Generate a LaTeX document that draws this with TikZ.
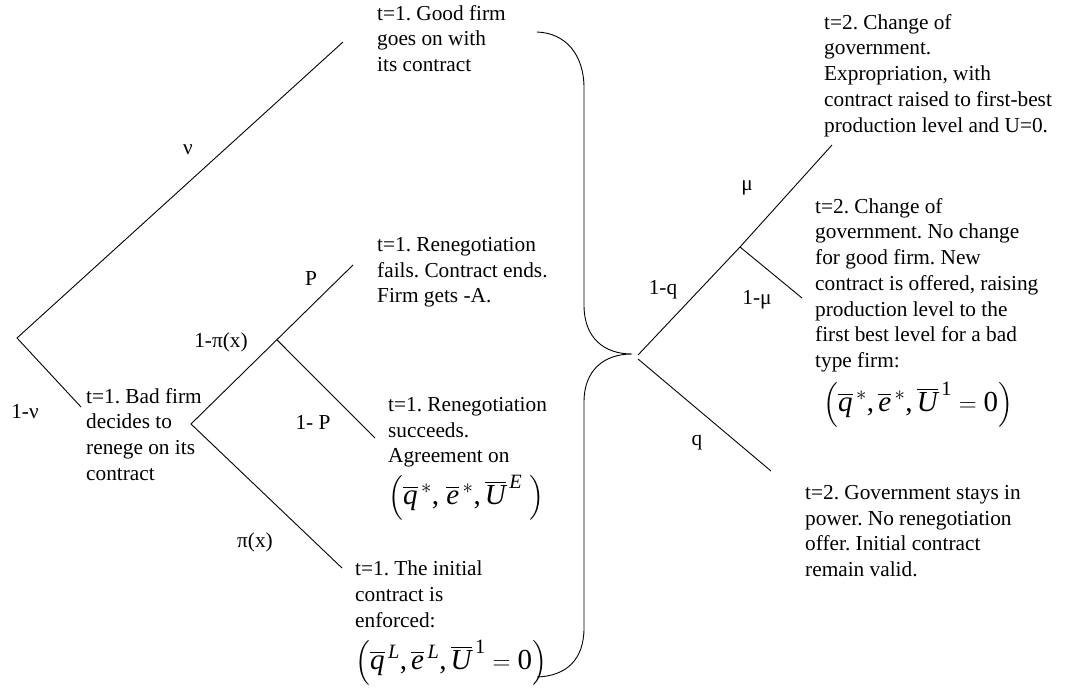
\documentclass[tikz,border=0pt]{standalone}
\usepackage{amsmath}
\usepackage{fontspec}
\setmainfont{Liberation Serif}
\usetikzlibrary{calc}
\newcommand{\fq}{\text{\itshape q}}
\newcommand{\fe}{\text{\itshape e}}
\newcommand{\fU}{\text{\itshape U}}
\frenchspacing
\begin{document}
\begin{tikzpicture}[x=1pt,y=-1pt,
  txt/.style={anchor=north west,align=left,inner sep=0pt,font=\fontsize{21.3}{25.7}\selectfont},
  lbl/.style={inner sep=0pt,font=\fontsize{21.3}{25.7}\selectfont},
  fml/.style={anchor=west,inner sep=0pt,font=\fontsize{29}{35}\selectfont},
  branch/.style={line width=0.9pt,draw=black},
  bracket/.style={line width=0.9pt,draw=black}]
\useasboundingbox (0,0) rectangle (1066,689);

% ---------- left tree ----------
\coordinate (root) at (17,338);
\coordinate (nuend) at (343,42);
\coordinate (badin) at (81,407);
\coordinate (bad) at (191,424);
\coordinate (pend) at (353,265);
\coordinate (pinode) at ($(bad)!0.53!(pend)$);
\coordinate (oneP) at (375,438);
\coordinate (piend) at (342,568);

\draw[branch] (nuend) -- (root) -- (badin);
\draw[branch] (pend) -- (bad) -- (piend);
\draw[branch] (pinode) -- (oneP);

\node[lbl] (lnu) at (188,150) {ν};
\node[lbl] (l1nu) at (25,412) {1-ν};
\node[lbl] (l1pi) at (221,342) {1-π(x)};
\node[lbl] (lP) at (311,279) {P};
\node[lbl] (l1P) at (313,422) {1- P};
\node[lbl] (lpi) at (255,542) {π(x)};

\node[txt] (good) at (377,5) {t=1. Good firm\\goes on with\\its contract};
\node[txt] (fail) at (377,237) {t=1. Renegotiation\\fails. Contract ends.\\Firm gets -A.};
\node[txt] (badtxt) at (86,388) {t=1. Bad firm\\decides to\\renege on its\\contract};
\node[txt] (succ) at (388,397) {t=1. Renegotiation\\succeeds.\\Agreement on};
\node[fml] (succf) at (388,498) {$\Bigl(\overline{\fq}^{\,*}\text{, }\overline{\fe}^{\,*}\text{,}\,\overline{\fU}^{\,\text{\itshape E}}\;\Bigr)$};
\node[txt] (enf) at (355,561) {t=1. The initial\\contract is\\enforced:};
\node[fml] (enff) at (355,663) {$\Bigl(\overline{\fq}^{\,\text{\itshape L}}\text{,}\,\overline{\fe}^{\,\text{\itshape L}}\text{,}\,\overline{\fU}^{\,\text{1}}=\text{0}\Bigr)$};

% ---------- bracket ----------
\coordinate (btop) at (537,32);
\coordinate (bbot) at (537,677);
\coordinate (tip) at (632,354);
\draw[bracket] (btop) .. controls (566,33) and (584,55) .. (584,88) -- (584,305)
  .. controls (584,338) and (604,354) .. (tip)
  .. controls (604,354) and (584,370) .. (584,402) -- (584,628)
  .. controls (584,660) and (566,676) .. (bbot);

% ---------- right tree ----------
\coordinate (rnode) at (638,355);
\coordinate (rnodeq) at (638,359);
\coordinate (mu) at (740,247);
\coordinate (muend) at (832,145);
\coordinate (onemu) at (802,298);
\coordinate (qend) at (771,471);

\draw[branch] (rnode) -- (mu) -- (muend);
\draw[branch] (mu) -- (onemu);
\draw[branch] (rnodeq) -- (qend);

\node[lbl] (l1q) at (663,290) {1-q};
\node[lbl] (lmu) at (747,188) {μ};
\node[lbl] (l1mu) at (757,300) {1-μ};
\node[lbl] (lq) at (697,443) {q};

\node[txt] (expr) at (824,14) {t=2. Change of\\government.\\Expropriation, with\\contract raised to first-best\\production level and U=0.};
\node[txt] (newc) at (815,198) {t=2. Change of\\government. No change\\for good firm. New\\contract is offered, raising\\production level to the\\first best level for a bad\\type firm:};
\node[fml] (newf) at (823,405) {$\Bigl(\overline{\fq}^{\,*}\text{,}\,\overline{\fe}^{\,*}\text{,}\,\overline{\fU}^{\,\text{1}}=\text{0}\Bigr)$};
\node[txt] (stay) at (805,485) {t=2. Government stays in\\power. No renegotiation\\offer. Initial contract\\remain valid.};
\end{tikzpicture}
\end{document}
